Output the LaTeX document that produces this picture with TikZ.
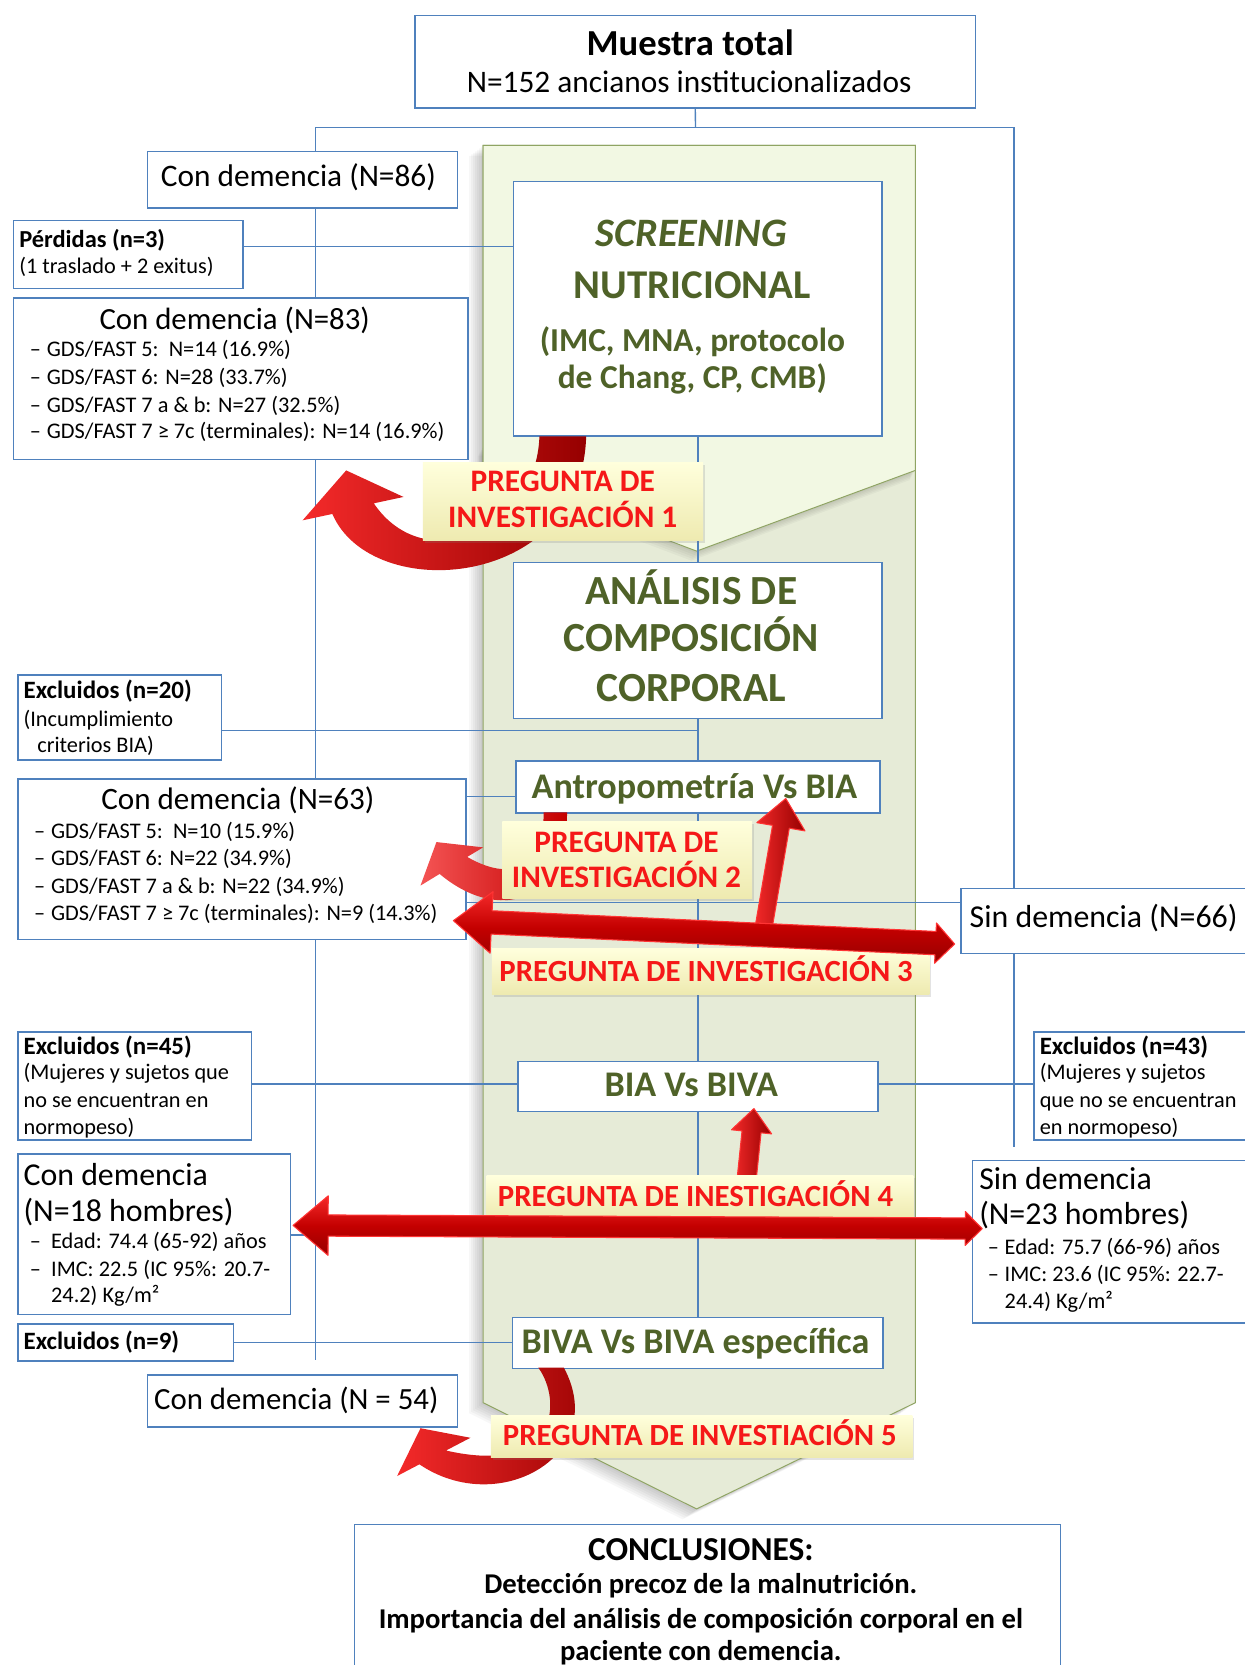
\documentclass[tikz,border=0pt]{standalone}
\usepackage{fontspec}
\setmainfont{Carlito}
\usetikzlibrary{calc,shadows}

\definecolor{bxblue}{HTML}{4F81BD}
\definecolor{olivetxt}{HTML}{4F6228}
\definecolor{panelhi}{HTML}{F2F8E3}
\definecolor{panello}{HTML}{E6EBD7}
\definecolor{paneledge}{HTML}{8FA463}
\definecolor{qtop}{HTML}{FFFFDC}
\definecolor{qbot}{HTML}{EEEAB0}
\definecolor{qred}{HTML}{F51818}
\definecolor{arrdark}{HTML}{960000}
\definecolor{arrmid}{HTML}{C40000}
\definecolor{arrbright}{HTML}{F42A2A}
\definecolor{arrpale}{HTML}{F45454}
\definecolor{arrhi}{HTML}{FF3434}

\newcommand\fsz[1]{\fontsize{#1}{#1}\selectfont}
\newcommand\dashitem{\makebox[16pt][l]{–}}
\newcommand\dashitemw{\makebox[20pt][l]{–}}

% straight double-headed arrow: style, tail tip, head tip, head length/half width at each end, shaft half width
\newcommand\DoubleArrow[8]{%
  \coordinate (#2-hb) at ($(#2)!#4pt!(#3)$);
  \coordinate (#3-hb) at ($(#3)!#6pt!(#2)$);
  \path[#1] (#2)
    -- ($(#2-hb)!#5pt!90:(#3)$) -- ($(#2-hb)!#8pt!90:(#3)$)
    -- ($(#3-hb)!#8pt!-90:(#2)$) -- ($(#3-hb)!#7pt!-90:(#2)$)
    -- (#3)
    -- ($(#3-hb)!#7pt!90:(#2)$) -- ($(#3-hb)!#8pt!90:(#2)$)
    -- ($(#2-hb)!#8pt!-90:(#3)$) -- ($(#2-hb)!#5pt!-90:(#3)$)
    -- cycle;}
% straight single arrow: style, start, tip, head length, head half width, shaft half width
\newcommand\SingleArrow[6]{%
  \coordinate (#3-hb) at ($(#3)!#4pt!(#2)$);
  \path[#1] ($(#2)!#6pt!-90:(#3)$) -- ($(#3-hb)!#6pt!90:(#2)$)
    -- ($(#3-hb)!#5pt!90:(#2)$) -- (#3) -- ($(#3-hb)!#5pt!-90:(#2)$)
    -- ($(#3-hb)!#6pt!-90:(#2)$) -- ($(#2)!#6pt!90:(#3)$) -- cycle;}

\pgfdeclarelayer{bg}
\pgfdeclarelayer{lines}
\pgfsetlayers{bg,lines,main}

\begin{document}
\begin{tikzpicture}[x=1pt,y=-1pt,
  box/.style={draw=bxblue, line width=1.5, fill=white, inner sep=0, anchor=north west},
  conn/.style={draw=bxblue, line width=1.3},
  txt/.style={inner sep=0, anchor=base west, text=black},
  ctxt/.style={inner sep=0, anchor=base, text=black},
  otxt/.style={inner sep=0, anchor=base, text=olivetxt},
  qbox/.style={top color=qtop, bottom color=qbot, inner sep=0, anchor=north west,
    drop shadow={shadow xshift=2pt, shadow yshift=-2.5pt, opacity=0.22}},
  qtxt/.style={inner sep=0, anchor=base, text=qred},
  bend3d/.style={left color=arrbright, right color=arrdark},
  flat3d/.style={top color=arrbright, bottom color=arrdark, middle color=arrmid, draw=arrhi, line width=1, line join=round},
  up3d/.style={left color=arrbright, right color=arrdark, draw=arrhi, line width=1, line join=round},
]
\useasboundingbox (0,0) rectangle (1172,1568);

% ---------- background panel (two stacked chevrons) ----------
\begin{pgfonlayer}{bg}
  \fill[white] (0,0) rectangle (1172,1568);
  \foreach \i in {1,...,7}
    \fill[black, opacity=0.03, shift={(-1.9*\i,1.4*\i)}]
      (455,137) -- (862,137) -- (862,1321) -- (656,1421) -- (455,1321) -- cycle;
  \filldraw[fill=panello, draw=paneledge, line width=0.9]
    (455,137) -- (862,137) -- (862,1321) -- (656,1421) -- (455,1321) -- cycle;
  \foreach \i in {1,...,5}
    \fill[black, opacity=0.03, shift={(-1*\i,1.8*\i)}]
      (455,420) -- (862,420) -- (862,443) -- (656,519) -- (455,443) -- cycle;
  \filldraw[fill=panelhi, draw=paneledge, line width=0.9]
    (455,137) -- (862,137) -- (862,443) -- (656,519) -- (455,443) -- cycle;
\end{pgfonlayer}

% ---------- boxes ----------
\node[box, minimum width=528, minimum height=87] (muestra) at (390,14) {};
\node[ctxt, font=\fsz{34.5}\bfseries] (muestra-a) at (650,52) {Muestra total};
\node[ctxt, font=\fsz{29.5}] (muestra-b) at (649,87) {N=152 ancianos institucionalizados};

\node[box, minimum width=292, minimum height=53] (cd86) at (138,142) {};
\node[ctxt, font=\fsz{29.5}] (cd86-a) at (281,176) {Con demencia (N=86)};

\node[box, minimum width=216, minimum height=64] (perdidas) at (12,207) {};
\node[txt, font=\fsz{23}\bfseries] (perdidas-a) at (18,233) {Pérdidas (n=3)};
\node[txt, font=\fsz{21}] (perdidas-b) at (18,258) {(1 traslado + 2 exitus)};

\node[box, minimum width=428, minimum height=152] (cd83) at (12,280) {};
\node[ctxt, font=\fsz{29}] (cd83-a) at (221,310) {Con demencia (N=83)};
\node[txt, font=\fsz{21}] (cd83-b) at (28,336) {\dashitem GDS/FAST 5:\ \ N=14 (16.9\%)};
\node[txt, font=\fsz{21}] (cd83-c) at (28,362) {\dashitem GDS/FAST 6: N=28 (33.7\%)};
\node[txt, font=\fsz{21}] (cd83-d) at (28,388) {\dashitem GDS/FAST 7 a \& b: N=27 (32.5\%)};
\node[txt, font=\fsz{21}] (cd83-e) at (28,413) {\dashitem GDS/FAST 7 ≥ 7c (terminales): N=14 (16.9\%)};

\node[box, minimum width=347, minimum height=240] (screening) at (483,170) {};
\node[otxt, font=\fsz{38}\bfseries\itshape] (scr-a) at (651,232) {SCREENING};
\node[otxt, font=\fsz{38.5}\bfseries] (scr-b) at (652,281) {NUTRICIONAL};
\node[otxt, font=\fsz{31.5}\bfseries] (scr-c) at (652,331) {(IMC, MNA, protocolo};
\node[otxt, font=\fsz{31.5}\bfseries] (scr-d) at (652,366) {de Chang, CP, CMB)};

\node[box, minimum width=347, minimum height=147] (analisis) at (483,529) {};
\node[otxt, font=\fsz{39}\bfseries] (ana-a) at (651,569) {ANÁLISIS DE};
\node[otxt, font=\fsz{39}\bfseries] (ana-b) at (651,614) {COMPOSICIÓN};
\node[otxt, font=\fsz{39}\bfseries] (ana-c) at (651,661) {CORPORAL};

\node[box, minimum width=192, minimum height=80] (excl20) at (16,635) {};
\node[txt, font=\fsz{23.5}\bfseries] (ex20-a) at (22,658) {Excluidos (n=20)};
\node[txt, font=\fsz{21}] (ex20-b) at (22,684) {(Incumplimiento};
\node[txt, font=\fsz{21}] (ex20-c) at (35,709) {criterios BIA)};

\node[box, minimum width=343, minimum height=49] (antro) at (485,716) {};
\node[otxt, font=\fsz{34}\bfseries] (antro-a) at (654,752) {Antropometría Vs BIA};

\node[box, minimum width=422, minimum height=151] (cd63) at (16,733) {};
\node[ctxt, font=\fsz{29.3}] (cd63-a) at (224,762) {Con demencia (N=63)};
\node[txt, font=\fsz{21}] (cd63-b) at (32,790) {\dashitem GDS/FAST 5:\ \ N=10 (15.9\%)};
\node[txt, font=\fsz{21}] (cd63-c) at (32,815) {\dashitem GDS/FAST 6: N=22 (34.9\%)};
\node[txt, font=\fsz{21}] (cd63-d) at (32,841) {\dashitem GDS/FAST 7 a \& b: N=22 (34.9\%)};
\node[txt, font=\fsz{21}] (cd63-e) at (32,867) {\dashitem GDS/FAST 7 ≥ 7c (terminales): N=9 (14.3\%)};

\node[box, minimum width=280, minimum height=61] (sin66) at (904,836) {};
\node[txt, font=\fsz{30}] (sin66-a) at (913,873) {Sin demencia (N=66)};

\node[box, minimum width=220, minimum height=102] (excl45) at (16,971) {};
\node[txt, font=\fsz{23.5}\bfseries] (ex45-a) at (22,993) {Excluidos (n=45)};
\node[txt, font=\fsz{21}] (ex45-b) at (22,1017) {(Mujeres y sujetos que};
\node[txt, font=\fsz{21}] (ex45-c) at (22,1043) {no se encuentran en};
\node[txt, font=\fsz{21}] (ex45-d) at (22,1068) {normopeso)};

\node[box, minimum width=339, minimum height=47] (bia) at (487,999) {};
\node[otxt, font=\fsz{34}\bfseries] (bia-a) at (651,1033) {BIA Vs BIVA};

\node[box, minimum width=210, minimum height=102] (excl43) at (973,971) {};
\node[txt, font=\fsz{23.5}\bfseries] (ex43-a) at (979,993) {Excluidos (n=43)};
\node[txt, font=\fsz{21}] (ex43-b) at (979,1017) {(Mujeres y sujetos};
\node[txt, font=\fsz{21}] (ex43-c) at (979,1043) {que no se encuentran};
\node[txt, font=\fsz{21}] (ex43-d) at (979,1068) {en normopeso)};

\node[box, minimum width=257, minimum height=151] (cd18) at (16,1086) {};
\node[txt, font=\fsz{30}] (cd18-a) at (22,1116) {Con demencia};
\node[txt, font=\fsz{30}] (cd18-b) at (22,1150) {(N=18 hombres)};
\node[txt, font=\fsz{21}] (cd18-c) at (28,1176) {\dashitemw Edad: 74.4 (65-92) años};
\node[txt, font=\fsz{21}] (cd18-d) at (28,1202) {\dashitemw IMC: 22.5 (IC 95\%: 20.7-};
\node[txt, font=\fsz{21}] (cd18-e) at (48,1227) {24.2) Kg/m²};

\node[box, minimum width=270, minimum height=153] (sin23) at (915,1092) {};
\node[txt, font=\fsz{30}] (sin23-a) at (922,1120) {Sin demencia};
\node[txt, font=\fsz{30}] (sin23-b) at (922,1153) {(N=23 hombres)};
\node[txt, font=\fsz{21}] (sin23-c) at (930,1181) {\dashitem Edad: 75.7 (66-96) años};
\node[txt, font=\fsz{21}] (sin23-d) at (930,1207) {\dashitem IMC: 23.6 (IC 95\%: 22.7-};
\node[txt, font=\fsz{21}] (sin23-e) at (946,1232) {24.4) Kg/m²};

\node[box, minimum width=203, minimum height=35] (excl9) at (16,1246) {};
\node[txt, font=\fsz{23.5}\bfseries] (ex9-a) at (22,1271) {Excluidos (n=9)};

\node[box, minimum width=349, minimum height=48] (biva) at (482,1240) {};
\node[otxt, font=\fsz{34}\bfseries] (biva-a) at (655,1275) {BIVA Vs BIVA específica};

\node[box, minimum width=292, minimum height=49] (cd54) at (138,1294) {};
\node[ctxt, font=\fsz{29}] (cd54-a) at (279,1327) {Con demencia (N = 54)};

\node[box, minimum width=665, minimum height=150] (concl) at (333,1435) {};
\node[ctxt, font=\fsz{31.5}\bfseries] (concl-a) at (660,1470) {CONCLUSIONES:};
\node[ctxt, font=\fsz{27}\bfseries] (concl-b) at (660,1501) {Detección precoz de la malnutrición.};
\node[ctxt, font=\fsz{27}\bfseries] (concl-c) at (660,1534) {Importancia del análisis de composición corporal en el};
\node[ctxt, font=\fsz{27}\bfseries] (concl-d) at (660,1564) {paciente con demencia.};

% ---------- connectors ----------
\coordinate (split) at (655,120);
\coordinate (lEnd) at (297,1281);
\coordinate (rEnd) at (955,1080);
\coordinate (y232) at (0,232);
\coordinate (y688) at (0,688);
\coordinate (y750) at (0,750);
\coordinate (y850) at (0,850);
\coordinate (y1021) at (0,1021);
\coordinate (y1163) at (0,1163);
\begin{pgfonlayer}{lines}
  \draw[conn] (muestra.south) -- (split);
  \draw[conn] (split) -| (lEnd);
  \draw[conn] (split) -| (rEnd);
  \draw[conn] (screening.south) -- (analisis.north);
  \draw[conn] (analisis.south) -- (antro.north);
  \draw[conn] (antro.south) -- (bia.north);
  \draw[conn] (bia.south) -- (biva.north);
  \draw[conn] (perdidas.east |- y232) -- (screening.west |- y232);
  \draw[conn] (excl20.east |- y688) -- (analisis.south |- y688);
  \draw[conn] (cd63.east |- y750) -- (antro.west |- y750);
  \draw[conn] (cd63.east |- y850) -- (sin66.west |- y850);
  \draw[conn] (excl45.east |- y1021) -- (bia.west |- y1021);
  \draw[conn] (bia.east |- y1021) -- (excl43.west |- y1021);
  \draw[conn] (excl9.east) -- (biva.west |- excl9.east);
  \draw[conn] (cd18.east |- y1163) -- (lEnd |- y1163);
\end{pgfonlayer}

% ---------- curved arrows (behind the question labels) ----------
\path[bend3d] (508,411) .. controls (505,500) and (400,545) .. (352,474)
  -- (380,468) -- (326,443) -- (285,490) -- (313,484)
  .. controls (350,570) and (548,555) .. (552,411) -- cycle;
\path[left color=arrpale, right color=arrmid] (512,765) .. controls (512,820) and (480,830) .. (440,807)
  -- (455,798) -- (411,793) -- (396,834) -- (414,823)
  .. controls (470,870) and (534,850) .. (534,765) -- cycle;
\path[bend3d] (507,1288) .. controls (530,1320) and (525,1390) .. (420,1366)
  -- (443,1354) -- (396,1345) -- (374,1390) -- (395,1379)
  .. controls (470,1430) and (575,1370) .. (531,1288) -- cycle;

\coordinate (a4s) at (703,1112);
\coordinate (a4t) at (710,1044);
\SingleArrow{up3d}{a4s}{a4t}{22}{19}{9}

% ---------- research-question labels ----------
\node[qbox, minimum width=264, minimum height=74] (q1) at (398,435) {};
\node[qtxt, font=\fsz{29.5}\bfseries] (q1-a) at (530,463) {PREGUNTA DE};
\node[qtxt, font=\fsz{29.5}\bfseries] (q1-b) at (530,497) {INVESTIGACIÓN 1};

\node[qbox, minimum width=235, minimum height=73] (q2) at (473,773) {};
\node[qtxt, font=\fsz{29.5}\bfseries] (q2-a) at (590,803) {PREGUNTA DE};
\node[qtxt, font=\fsz{29.5}\bfseries] (q2-b) at (590,836) {INVESTIGACIÓN 2};

\node[qbox, minimum width=412, minimum height=43] (q3) at (463,893) {};
\node[qtxt, font=\fsz{29}\bfseries] (q3-a) at (665,924) {PREGUNTA DE INVESTIGACIÓN 3};

\node[qbox, minimum width=402, minimum height=41] (q4) at (458,1107) {};
\node[qtxt, font=\fsz{29}\bfseries] (q4-a) at (655,1136) {PREGUNTA DE INESTIGACIÓN 4};

\node[qbox, minimum width=397, minimum height=39] (q5) at (462,1333) {};
\node[qtxt, font=\fsz{29}\bfseries] (q5-a) at (659,1361) {PREGUNTA DE INVESTIACIÓN 5};

% ---------- straight 3-D arrows ----------
\coordinate (a3s) at (718,880);
\coordinate (a3t) at (740,752);
\SingleArrow{up3d}{a3s}{a3t}{27}{23}{8}
\coordinate (a3L) at (427,867);
\coordinate (a3R) at (899,889);
\DoubleArrow{flat3d}{a3L}{a3R}{36}{29}{18}{19}{11}

\coordinate (a4L) at (276,1154);
\coordinate (a4R) at (925,1157);
\DoubleArrow{flat3d}{a4L}{a4R}{33}{28}{16}{16}{10}
\end{tikzpicture}
\end{document}
